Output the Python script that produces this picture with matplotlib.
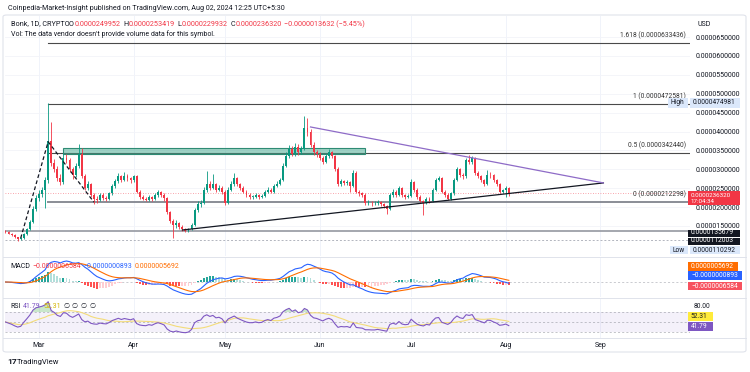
import numpy as np
import pandas as pd
import matplotlib
matplotlib.use('Agg')
import matplotlib.pyplot as plt
import matplotlib.dates as mdates
from matplotlib.patches import Rectangle, FancyBboxPatch

plt.rcParams['font.family'] = ['Roboto', 'DejaVu Sans']

# daily candles, prices in units of 1e-6 USD
dates = pd.date_range('2024-02-19', '2024-08-02', freq='D')
first_open = 13.7
closes = [13.4, 13.0, 12.6, 12.0, 11.5, 11.7, 12.9, 14.2, 16.0, 19.6,
          22.4, 23.4, 24.6, 27.1, 37.4, 31.6, 30.1, 27.6, 26.6, 33.0,
          32.5, 30.0, 28.6, 31.0, 34.0, 28.1, 25.1, 26.1, 23.2, 22.2,
          21.9, 23.2, 22.5, 22.2, 23.6, 25.6, 26.9, 28.1, 27.1, 28.1,
          27.6, 27.1, 28.1, 24.1, 22.7, 22.2, 22.0, 22.7, 22.2, 23.2,
          23.9, 23.2, 22.3, 18.7, 16.3, 15.3, 15.8, 14.8, 14.1, 13.8,
          14.1, 15.3, 19.2, 20.7, 21.2, 24.6, 26.1, 25.1, 26.1, 24.6,
          25.1, 24.1, 21.2, 24.6, 26.1, 27.6, 26.1, 25.1, 24.1, 23.2,
          22.7, 22.7, 23.2, 22.7,
          22.9, 24.0, 24.6, 24.1, 25.6, 26.1, 27.1, 31.0, 33.5, 35.5,
          34.0, 36.0, 34.5, 35.5, 40.9, 40.0, 36.5, 34.5, 34.0, 33.0,
          32.0, 33.5, 34.5, 33.5, 30.0, 26.1, 26.8, 26.4, 26.6, 25.6,
          29.1, 24.1, 23.6, 23.2, 21.2, 21.2, 21.0, 21.0, 21.3, 20.7,
          20.2, 19.5, 23.2, 24.1, 23.2, 25.1, 23.2, 22.7, 22.9, 26.6,
          24.6, 22.7, 21.7, 21.2, 22.2, 21.7, 24.6, 27.1, 27.6, 24.1,
          23.2, 22.2, 23.6, 27.1, 30.0, 28.6, 28.1, 32.5, 32.0, 33.0,
          29.1, 28.1, 27.1, 26.1, 28.6, 28.4, 27.1, 26.1, 24.1, 24.4,
          24.9952, 23.632]
highs = [13.9, 13.6, 13.2, 12.8, 12.2, 12.0, 13.2, 14.6, 16.5, 20.2,
         23.3, 24.6, 25.4, 28.0, 47.4981, 42.6, 32.8, 31.0, 28.8, 34.2,
         34.0, 33.1, 30.6, 31.7, 36.8, 35.6, 28.7, 26.9, 26.5, 23.8,
         23.0, 23.7, 23.6, 23.0, 24.0, 26.2, 27.5, 29.1, 28.6, 29.2,
         28.7, 28.0, 28.6, 28.4, 24.5, 23.3, 22.6, 23.2, 23.0, 23.6,
         24.5, 24.2, 23.6, 22.6, 19.1, 16.8, 16.5, 16.1, 15.2, 14.5,
         14.6, 15.8, 19.7, 21.5, 21.9, 25.2, 29.5, 27.0, 28.8, 26.5,
         25.8, 25.5, 24.5, 25.2, 26.8, 29.0, 28.0, 26.5, 25.5, 24.4,
         23.6, 23.2, 23.7, 23.5,
         23.4, 24.5, 25.2, 25.0, 26.1, 26.8, 27.7, 31.6, 34.6, 36.5,
         36.2, 37.0, 36.6, 36.2, 44.0, 43.5, 40.6, 37.2, 35.1, 34.5,
         33.4, 34.0, 35.4, 34.9, 33.9, 30.5, 27.4, 27.2, 27.1, 27.0,
         29.8, 29.5, 24.6, 24.0, 23.6, 21.8, 21.6, 21.5, 21.8, 21.7,
         21.1, 20.6, 23.6, 24.8, 24.5, 25.7, 25.4, 23.5, 23.4, 27.5,
         27.0, 25.0, 23.1, 22.0, 22.7, 22.6, 25.1, 27.6, 28.3, 28.0,
         24.5, 23.6, 24.1, 27.6, 30.6, 30.4, 29.0, 33.0, 33.9, 33.6,
         33.3, 29.6, 28.6, 27.5, 29.7, 29.2, 28.8, 27.5, 26.5, 24.9,
         25.5, 25.3419]
lows = [13.1, 12.8, 12.3, 11.7, 11.0292, 11.2, 11.5, 12.6, 14.0, 15.7,
        19.1, 21.6, 22.8, 19.8, 26.5, 30.8, 29.2, 26.9, 25.9, 26.2,
        31.6, 29.3, 27.5, 28.0, 30.4, 27.6, 24.4, 24.6, 22.6, 20.9,
        21.2, 21.5, 21.9, 21.6, 21.9, 23.2, 25.0, 26.5, 26.6, 26.8,
        27.0, 26.5, 26.7, 23.6, 22.1, 21.8, 21.5, 21.6, 21.7, 21.9,
        22.8, 22.7, 21.7, 18.2, 15.8, 11.8, 14.6, 14.3, 13.7, 13.4,
        13.5, 13.9, 15.0, 18.6, 20.1, 20.9, 24.1, 24.5, 24.7, 24.0,
        24.2, 23.5, 20.6, 20.9, 24.2, 25.7, 25.6, 24.5, 23.6, 22.6,
        22.1, 22.2, 22.3, 22.2,
        22.3, 22.6, 23.7, 23.6, 23.8, 25.2, 25.8, 26.8, 30.5, 32.9,
        33.4, 33.6, 33.9, 34.0, 35.2, 38.9, 35.8, 33.9, 33.3, 32.4,
        31.5, 31.6, 33.1, 32.9, 29.5, 25.5, 25.7, 25.9, 25.9, 24.0,
        25.2, 23.6, 23.0, 22.6, 20.6, 20.6, 20.4, 20.5, 20.6, 20.2,
        19.7, 18.3, 19.2, 22.6, 22.7, 22.9, 22.7, 22.1, 22.3, 22.6,
        24.1, 22.2, 21.2, 18.0, 20.8, 21.2, 21.4, 24.2, 26.8, 23.6,
        22.7, 21.8, 21.9, 23.3, 26.8, 28.0, 27.5, 27.8, 31.4, 31.5,
        28.6, 27.6, 26.6, 25.6, 25.8, 27.8, 26.6, 25.5, 23.6, 23.6,
        22.6, 22.9932]
assert len(closes) == len(dates) == len(highs) == len(lows)

price_ticks = [15, 20, 25, 30, 35, 40, 45, 50, 55, 60, 65]
month_ticks = ['2024-03-01', '2024-04-01', '2024-05-01', '2024-06-01',
               '2024-07-01', '2024-08-01', '2024-09-01']
month_labels = ['Mar', 'Apr', 'May', 'Jun', 'Jul', 'Aug', 'Sep']

# drawings
fib_levels = ['1.618', '1', '0.5', '0']
fib_prices = [63.3436, 47.2581, 34.2440, 21.2298]
fib_span = ['2024-03-04', '2024-09-30']
hlines = [13.5679, 11.2003]
zone_dates = ['2024-03-09', '2024-06-16']
zone_prices = [34.0, 35.6]
tri_lower = [('2024-04-17', 13.94), ('2024-09-02', 26.4)]
tri_upper = [('2024-05-29', 41.2), ('2024-09-02', 26.4)]
swing = [('2024-02-24', 11.8), ('2024-03-04', 37.3), ('2024-03-19', 21.3)]
last_price = 23.632

UP, DN = '#089981', '#f23645'
TXT = '#131722'
W, H = 750, 372


def box(l, t, r, b):
    return [l / W, 1 - b / H, (r - l) / W, (b - t) / H]


def d2n(s):
    return mdates.date2num(pd.Timestamp(s))


x = mdates.date2num(dates)
o = np.r_[first_open, closes[:-1]]
c = np.array(closes)
mar1 = d2n('2024-03-01')
xlim = (mar1 - 11.15, mar1 + 213.4)

fig = plt.figure(figsize=(W / 100, H / 100), dpi=100)
fig.patch.set_facecolor('white')

ax = fig.add_axes(box(5, 16, 690, 256))
am = fig.add_axes(box(5, 258, 690, 297))
ar = fig.add_axes(box(5, 298, 690, 338))

for a in (ax, am, ar):
    a.set_xlim(*xlim)
    for s in a.spines.values():
        s.set_visible(False)
    a.tick_params(length=0)
    for m in month_ticks:
        a.axvline(d2n(m), color='#f0f3fa', lw=0.7, zorder=0)

# ---- price pane
ax.set_ylim(65 - (256 - 37) / 3.78, 65 + (37 - 16) / 3.78)
for p in price_ticks:
    ax.axhline(p, color='#f3f4f8', lw=0.6, zorder=0)
ax.set_xticks([])
ax.yaxis.tick_right()
ax.set_yticks(price_ticks)
ax.set_yticklabels([f'{p * 1e-6:.10f}' for p in price_ticks])
ax.tick_params(axis='y', labelsize=5, labelcolor=TXT, pad=4)

up = c >= o
cols = np.where(up, UP, DN)
ax.vlines(x, lows, highs, colors=cols, lw=0.6, zorder=3)
body = np.where(np.abs(c - o) < 0.15, 0.15, c - o)
ax.bar(x, body, bottom=o, width=0.62, color=cols, zorder=4, linewidth=0)

fx = [d2n(fib_span[0]), d2n(fib_span[1])]
for lev, pr in zip(fib_levels, fib_prices):
    if lev == '0':
        ax.plot(fx, [pr, pr], color='#8a8d96', lw=1.4, zorder=2)
    else:
        ax.plot(fx, [pr, pr], color='#4a4a4a', lw=0.8, zorder=2)
    ax.text(fx[1] - 1, pr + 1.0, f'{lev} ({pr * 1e-6:.10f})', fontsize=4.8,
            color='#333333', ha='right', va='bottom', zorder=5)

ax.axhline(hlines[0], color='#9598a1', lw=1.2, zorder=2)
ax.axhline(hlines[1], color='#b2b5be', lw=0.7, ls=(0, (2, 2)), zorder=2)
ax.axhline(last_price, color=DN, lw=0.6, ls=(0, (1, 2)), alpha=0.6, zorder=2)

zx0, zx1 = d2n(zone_dates[0]), d2n(zone_dates[1])
ax.add_patch(Rectangle((zx0, zone_prices[0]), zx1 - zx0, zone_prices[1] - zone_prices[0],
                       facecolor=(0.25, 0.65, 0.55, 0.5), edgecolor='#2e8b74', lw=0.8, zorder=2))

ax.plot([d2n(p[0]) for p in tri_lower], [p[1] for p in tri_lower], color='#131722', lw=0.9, zorder=5)
ax.plot([d2n(p[0]) for p in tri_upper], [p[1] for p in tri_upper], color='#8e6bc7', lw=0.9, zorder=5)
ax.plot([d2n(p[0]) for p in swing], [p[1] for p in swing], color='#131722', lw=0.9,
        ls=(0, (3, 2)), zorder=5)

# ---- MACD
cs = pd.Series(c)
macd = cs.ewm(span=12, adjust=False).mean() - cs.ewm(span=26, adjust=False).mean()
signal = macd.ewm(span=9, adjust=False).mean()
hist = (macd - signal).values
hcols = []
for i, h in enumerate(hist):
    prev = hist[i - 1] if i else 0
    if h >= 0:
        hcols.append('#26a69a' if h > prev else '#b2dfdb')
    else:
        hcols.append('#ffcdd2' if h > prev else '#ff5252')
k = np.nanmax(macd.values) / 21
am.set_ylim(-15 * k, 24 * k)
am.axhline(0, color='#9598a1', lw=0.5, ls=(0, (3, 3)), alpha=0.7)
am.bar(x, hist, width=0.62, color=hcols, linewidth=0, zorder=2)
am.plot(x, macd, color='#2962ff', lw=0.8, zorder=3)
am.plot(x, signal, color='#ff6d00', lw=0.8, zorder=3)
am.set_xticks([])
am.set_yticks([])

# ---- RSI
delta = cs.diff().fillna(0).values
gain, loss = np.clip(delta, 0, None), np.clip(-delta, 0, None)
ag, al = 0.35, 0.35
rsi = []
for g, l_ in zip(gain, loss):
    ag = ag + (g - ag) / 14
    al = al + (l_ - al) / 14
    rsi.append(100 - 100 / (1 + ag / al))
rsi = pd.Series(rsi)
rsi_ma = rsi.rolling(14, min_periods=1).mean()
ar.set_ylim(18, 98)
ar.axhspan(30, 70, color='#7e57c2', alpha=0.08, lw=0)
for lvl in (70, 50, 30):
    ar.axhline(lvl, color='#9598a1', lw=0.5, ls=(0, (3, 3)), alpha=0.8)
ar.fill_between(x, 70, rsi, where=rsi > 70, color='#66bb6a', alpha=0.35, lw=0, interpolate=True)
ar.plot(x, rsi_ma, color='#f3dc7a', lw=0.8, zorder=2)
ar.plot(x, rsi, color='#7e57c2', lw=0.8, zorder=3)
ar.set_yticks([])
ar.set_xticks([d2n(m) for m in month_ticks])
ar.set_xticklabels(month_labels)
ar.tick_params(axis='x', labelsize=5, labelcolor=TXT, pad=3)

# ---- frame and separators
fig.add_artist(FancyBboxPatch((3 / W, 1 - 352 / H), 743 / W, 337 / H,
                              boxstyle='round,pad=0,rounding_size=0.005',
                              transform=fig.transFigure, fill=False,
                              edgecolor='#e0e3eb', lw=0.8))
for yy in (257, 297.5, 338):
    fig.add_artist(plt.Line2D([3 / W, 746 / W], [1 - yy / H] * 2, color='#e0e3eb', lw=0.7))

renderer = fig.canvas.get_renderer()


def run(x0, y0, parts, size, gap=2.5, weight='normal'):
    xx = x0
    for s, col in parts:
        t = fig.text(xx / W, 1 - y0 / H, s, color=col, fontsize=size,
                     ha='left', va='center', fontweight=weight)
        xx += t.get_window_extent(renderer).width + gap
    return xx


def tag(l, t, r, b, s, bg, fg, size=4.8, pad=3):
    fig.add_artist(Rectangle((l / W, 1 - b / H), (r - l) / W, (b - t) / H,
                             transform=fig.transFigure, facecolor=bg, edgecolor='none'))
    if s:
        fig.text((l + pad) / W, 1 - (t + b) / 2 / H, s, color=fg, fontsize=size,
                 ha='left', va='center')


run(8, 8, [('Coinpedia-Market-Insight published on TradingView.com, Aug 02, 2024 12:25 UTC+5:30', TXT)], 5.1)
run(11, 24, [('Bonk, 1D, CRYPTO', TXT)], 5.2)
xx = 69
for lbl, val in [('O', '0.0000249952'), ('H', '0.0000253419'), ('L', '0.0000229932'),
                 ('C', '0.0000236320')]:
    xx = run(xx, 24, [(lbl, TXT), (val, DN)], 5.2, gap=0.3) + 2.5
run(xx, 24, [('\u22120.0000013632 (\u22125.45%)', DN)], 5.2)
run(11, 34, [("Vol: The data vendor doesn't provide volume data for this symbol.", TXT)], 5)
fig.text(697 / W, 1 - 25 / H, 'USD', fontsize=5, color=TXT, ha='left', va='center')

run(10, 267, [('MACD', TXT), ('\u22120.0000006584', DN), ('\u22120.0000000893', '#2962ff'),
              ('0.0000005692', '#ff6d00')], 5)
run(10, 306, [('RSI', TXT), ('41.79', '#7e57c2'), ('52.31', '#d4b400'),
              ('\u2205', TXT), ('\u2205', TXT), ('\u2205', TXT), ('\u2205', TXT)], 5)

# price scale tags
tag(668, 98, 688, 108, 'High', '#dbe8fb', TXT, pad=2.5)
tag(690, 98, 740, 108, '0.0000474981', '#dbe8fb', TXT)
tag(688, 191.5, 740, 205.5, '', DN, 'white')
fig.text(691 / W, 1 - 195.2 / H, '0.0000236320', fontsize=4.5, color='white', ha='left', va='center')
fig.text(691 / W, 1 - 201.8 / H, '17:04:34', fontsize=4.5, color='white', ha='left', va='center')
tag(688, 229.5, 740, 236.5, '0.0000135679', TXT, 'white')
tag(688, 237.5, 740, 244.5, '0.0000112003', TXT, 'white')
tag(670, 246, 688, 254, 'Low', '#dbe8fb', TXT, pad=2.5)
tag(690, 246, 740, 254, '0.0000110292', '#dbe8fb', TXT)
tag(688, 262, 738, 271, '0.0000005692', '#ff6d00', 'white')
tag(688, 271, 742, 280, '\u22120.0000000893', '#2962ff', 'white')
tag(688, 282, 742, 290, '\u22120.0000006584', '#f7525f', 'white')
fig.text(694 / W, 1 - 307 / H, '80.00', fontsize=4.8, color=TXT, ha='left', va='center')
tag(688, 312, 713, 321, '52.31', '#ffeb3b', TXT, pad=2.5)
tag(688, 322, 713, 331, '41.79', '#7e57c2', 'white', pad=2.5)

# footer logo
run(7, 362, [('17', TXT)], 6, gap=1, weight='bold')
fig.text(17 / W, 1 - 362 / H, 'TradingView', fontsize=5.5, color=TXT, ha='left', va='center')

fig.savefig('out.png', dpi=100)
